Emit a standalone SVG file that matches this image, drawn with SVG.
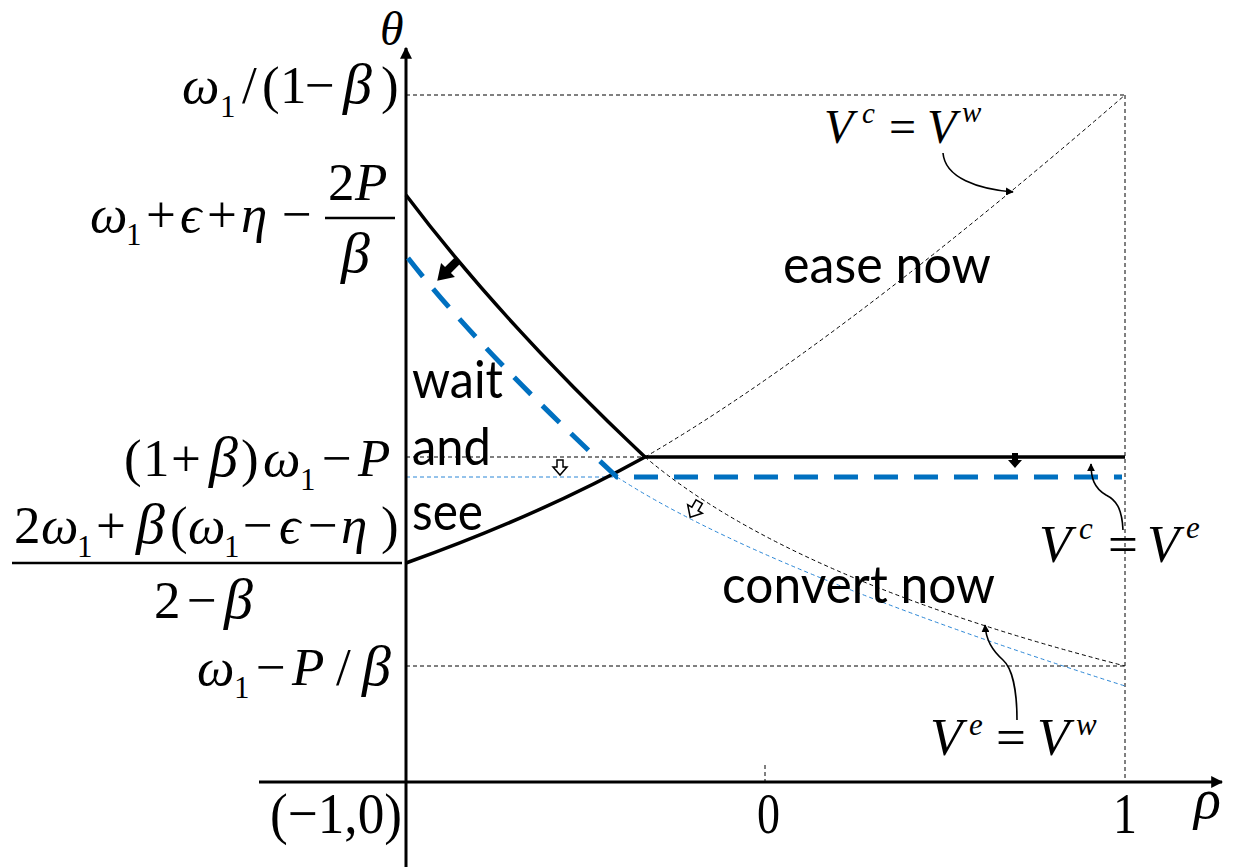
<svg xmlns="http://www.w3.org/2000/svg" width="1236" height="867" viewBox="0 0 1236 867">
<style>
.m{font-family:"Liberation Serif","DejaVu Serif",serif;font-size:53px;fill:#000}
.i{font-style:italic}
.s{font-size:31px}
.b{font-size:58px}
.r{font-family:Lato,"Open Sans",sans-serif;font-size:52px;fill:#000}
.thin{fill:none;stroke:#000;stroke-width:1;stroke-dasharray:4 3}
.thinb{fill:none;stroke:#2a86d6;stroke-width:1;stroke-dasharray:4 3}
.solid{fill:none;stroke:#000;stroke-width:3.5}
.ann{fill:none;stroke:#000;stroke-width:1.6;marker-end:url(#ah)}
</style>
<defs>
<marker id="ah" viewBox="0 0 10 10" refX="9" refY="5" markerWidth="5" markerHeight="5" orient="auto" markerUnits="strokeWidth">
<path d="M0,0 L10,5 L0,10 z" fill="#000"/>
</marker>
<marker id="ax" viewBox="0 0 10 10" refX="9" refY="5" markerWidth="4" markerHeight="4" orient="auto" markerUnits="strokeWidth">
<path d="M0,0 L10,5 L0,10 z" fill="#000"/>
</marker>
<polygon id="barrow" points="-3,-7 3,-7 3,0 7,0 0,8 -7,0 -3,0"/>
</defs>

<g id="guides">
<line class="thin" x1="406" y1="95" x2="1125" y2="95"/>
<line class="thin" x1="1125" y1="95" x2="1125" y2="782"/>
<line class="thin" x1="406" y1="457" x2="645" y2="457"/>
<line class="thinb" x1="406" y1="477" x2="617" y2="477"/>
<line class="thin" x1="406" y1="666" x2="1125" y2="666"/>
<line class="thin" x1="765" y1="765" x2="765" y2="782"/>
</g>

<g id="axes">
<line x1="406" y1="867" x2="406" y2="48" stroke="#000" stroke-width="3" marker-end="url(#ax)"/>
<line x1="259" y1="782" x2="1222" y2="782" stroke="#000" stroke-width="3" marker-end="url(#ax)"/>
</g>

<g id="connectors">
<path class="thin" d="M645,457 Q830,350 1125,95"/>
<path class="thin" d="M645,457 Q790,580 1125,666"/>
<path class="thinb" d="M617,477 Q760,570 1125,686"/>
<path class="solid" d="M406,195 Q500,320 645,457"/>
<path class="solid" d="M406,563 Q540,515 645,457"/>
<line class="solid" x1="645" y1="457" x2="1125" y2="457"/>
<path d="M408,258 Q480,350 617,477 L1122,477" fill="none" stroke="#0070c0" stroke-width="5" stroke-dasharray="24 16"/>
<path class="ann" d="M943,153 C945,178 978,189 1013,192"/>
<path class="ann" d="M1123,530 C1122,508 1116,500 1106,495 C1094,488 1091,478 1091,464"/>
<path class="ann" d="M1017,720 C1017,690 1012,668 1003,660 C992,650 986,640 985,625"/>
</g>

<g id="shift-arrows">
<use href="#barrow" transform="translate(448,270) rotate(45) scale(1.4,1.9)" fill="#000"/>
<use href="#barrow" transform="translate(560,467)" fill="#fff" stroke="#000" stroke-width="1.5"/>
<use href="#barrow" transform="translate(695,509) rotate(30) scale(1.2)" fill="#fff" stroke="#000" stroke-width="1.3"/>
<use href="#barrow" transform="translate(1015,460)" fill="#000"/>
</g>

<g id="axis-labels">
<text class="m i" x="380" y="45" style="font-size:48px">θ</text>
<text class="m i" x="1194" y="818" style="font-size:56px">ρ</text>
<text class="m" x="270" y="833" style="font-size:58px" textLength="132" lengthAdjust="spacingAndGlyphs">(−1,0)</text>
<text class="m" x="757" y="833" style="font-size:58px" textLength="23" lengthAdjust="spacingAndGlyphs">0</text>
<text class="m" x="1113" y="833" style="font-size:58px" textLength="24" lengthAdjust="spacingAndGlyphs">1</text>
</g>

<g id="label-omega-over">
<text class="m"><tspan class="i" x="182" y="103">ω</tspan><tspan class="s" x="220" y="117">1</tspan><tspan x="242" y="103">/</tspan><tspan x="262" y="103">(</tspan><tspan x="280" y="103">1</tspan><tspan x="305" y="103">−</tspan><tspan class="i b" x="343" y="103">β</tspan><tspan x="381" y="103">)</tspan></text>
</g>

<g id="label-omega-eps">
<text class="m"><tspan class="i" x="90" y="232">ω</tspan><tspan class="s" x="126" y="245">1</tspan><tspan x="146" y="232">+</tspan><tspan class="i" x="180" y="232">ϵ</tspan><tspan x="207" y="232">+</tspan><tspan class="i" x="241" y="232">η</tspan><tspan x="282" y="232">−</tspan><tspan x="328" y="200">2</tspan><tspan class="i" x="355" y="200">P</tspan><tspan class="i b" x="341" y="272">β</tspan></text>
<line x1="325" y1="218" x2="395" y2="218" stroke="#000" stroke-width="2.5"/>
</g>

<g id="label-one-plus-beta">
<text class="m"><tspan x="124" y="476">(</tspan><tspan x="143" y="476">1</tspan><tspan x="171" y="476">+</tspan><tspan class="i b" x="209" y="476">β</tspan><tspan x="241" y="476">)</tspan><tspan class="i" x="263" y="476">ω</tspan><tspan class="s" x="300" y="490">1</tspan><tspan x="322" y="476">−</tspan><tspan class="i" x="358" y="476">P</tspan></text>
</g>

<g id="label-fraction">
<text class="m"><tspan x="14" y="543">2</tspan><tspan class="i" x="41" y="543">ω</tspan><tspan class="s" x="77" y="557">1</tspan><tspan x="96" y="543">+</tspan><tspan class="i b" x="136" y="543">β</tspan><tspan x="170" y="543">(</tspan><tspan class="i" x="188" y="543">ω</tspan><tspan class="s" x="224" y="557">1</tspan><tspan x="243" y="543">−</tspan><tspan class="i" x="279" y="543">ϵ</tspan><tspan x="308" y="543">−</tspan><tspan class="i" x="341" y="543">η</tspan><tspan x="381" y="543">)</tspan><tspan x="154" y="618">2</tspan><tspan x="187" y="618">−</tspan><tspan class="i b" x="224" y="618">β</tspan></text>
<line x1="12" y1="563" x2="402" y2="563" stroke="#000" stroke-width="2.5"/>
</g>

<g id="label-omega-minus">
<text class="m"><tspan class="i" x="197" y="685">ω</tspan><tspan class="s" x="234" y="698">1</tspan><tspan x="256" y="685">−</tspan><tspan class="i" x="292" y="685">P</tspan><tspan x="336" y="685">/</tspan><tspan class="i b" x="362" y="685">β</tspan></text>
</g>

<g id="region-wait">
<text class="r" x="412" y="398" textLength="91" lengthAdjust="spacingAndGlyphs">wait</text>
<text class="r" x="412" y="465" textLength="79" lengthAdjust="spacingAndGlyphs">and</text>
<text class="r" x="412" y="530" textLength="71" lengthAdjust="spacingAndGlyphs">see</text>
</g>
<g id="region-ease">
<text class="r" x="783" y="283" textLength="208" lengthAdjust="spacingAndGlyphs">ease now</text>
</g>
<g id="region-convert">
<text class="r" x="722" y="603" textLength="273" lengthAdjust="spacingAndGlyphs">convert now</text>
</g>

<g id="label-vc-vw">
<text class="m"><tspan class="i" x="824" y="143" style="font-size:48px">V</tspan><tspan class="i" x="862" y="123" style="font-size:29px">c</tspan><tspan x="889" y="143" style="font-size:48px">=</tspan><tspan class="i" x="927" y="143" style="font-size:48px">V</tspan><tspan class="i" x="962" y="122" style="font-size:29px">w</tspan></text>
</g>
<g id="label-vc-ve">
<text class="m"><tspan class="i" x="1039" y="562">V</tspan><tspan class="i s" x="1079" y="539">c</tspan><tspan x="1108" y="562">=</tspan><tspan class="i" x="1147" y="562">V</tspan><tspan class="i s" x="1186" y="538">e</tspan></text>
</g>
<g id="label-ve-vw">
<text class="m"><tspan class="i" x="930" y="755">V</tspan><tspan class="i s" x="969" y="735">e</tspan><tspan x="996" y="755">=</tspan><tspan class="i" x="1037" y="755">V</tspan><tspan class="i s" x="1076" y="735">w</tspan></text>
</g>
</svg>
